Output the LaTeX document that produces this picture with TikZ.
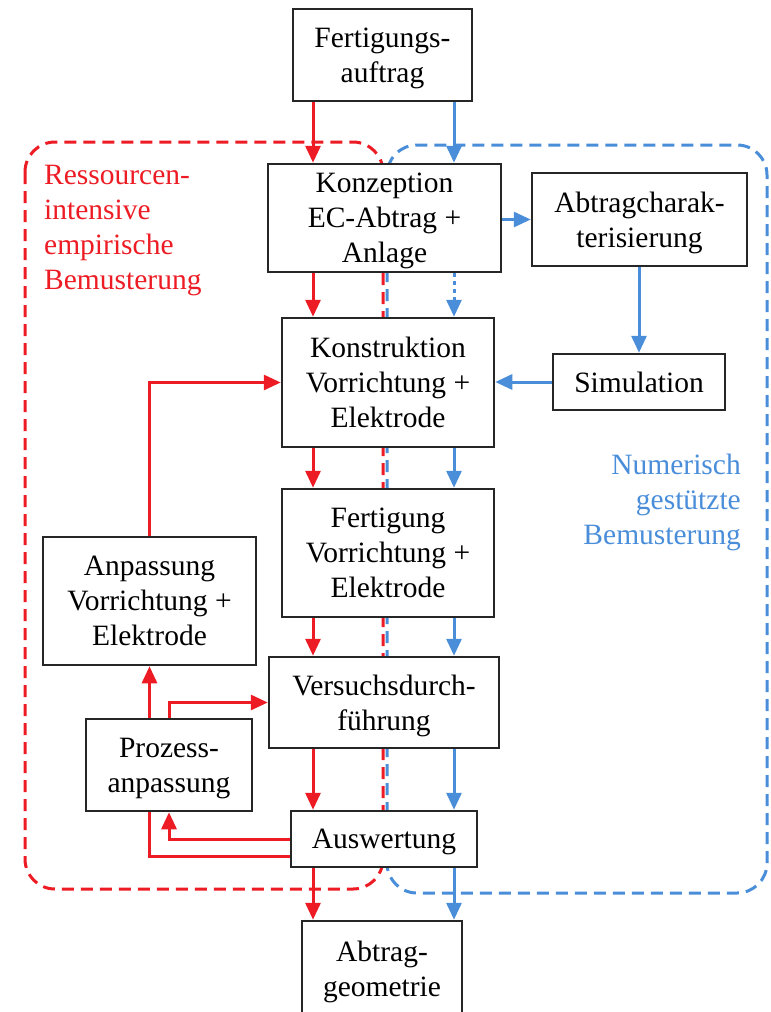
\documentclass[tikz,border=0pt]{standalone}
\usepackage{fontspec}
\setmainfont{Liberation Serif}
\usetikzlibrary{arrows.meta,backgrounds}
\definecolor{rot}{RGB}{237,28,36}
\definecolor{blau}{RGB}{74,142,218}

\begin{document}
\begin{tikzpicture}[x=1pt,y=-1pt]
\tikzstyle{Block} = [draw=black!85, line width=2.5, fill=white, inner sep=0, text depth=0pt, align=center, font=\fontsize{29.5}{35}\selectfont]
\tikzstyle{Rot} = [-{Triangle[length=17,width=15]}, line width=3, color=rot]
\tikzstyle{Blau} = [-{Triangle[length=17,width=15]}, line width=3, color=blau]
\tikzstyle{Bereich} = [line width=3, dash pattern=on 12 off 7, rounded corners=30]

\useasboundingbox (0,0) rectangle (771,1012);

\node [Block, minimum width=179, minimum height=92] (v1) at (382.5,55) {Fertigungs-\\auftrag};
\node [Block, minimum width=233, minimum height=108] (v2) at (384.5,218) {Konzeption\\EC-Abtrag +\\Anlage};
\node [Block, minimum width=215, minimum height=93] (v3) at (639.5,219.5) {Abtragcharak-\\terisierung};
\node [Block, minimum width=212, minimum height=129] (v4) at (388,382.5) {Konstruktion\\Vorrichtung +\\Elektrode};
\node [Block, minimum width=172, minimum height=56] (v5) at (639,382) {Simulation};
\node [Block, minimum width=212, minimum height=128] (v6) at (388,553) {Fertigung\\Vorrichtung +\\Elektrode};
\node [Block, minimum width=213, minimum height=128] (v7) at (149.5,601) {Anpassung\\Vorrichtung +\\Elektrode};
\node [Block, minimum width=230, minimum height=91] (v8) at (384,702.5) {Versuchsdurch-\\führung};
\node [Block, minimum width=166, minimum height=92] (v9) at (169,765) {Prozess-\\anpassung};
\node [Block, minimum width=186, minimum height=56] (v10) at (384,839) {Auswertung};
\node [Block, minimum width=160, minimum height=96] (v11) at (382,969) {Abtrag-\\geometrie};

\node [anchor=north west, inner sep=0, align=left, text=rot, font=\fontsize{29.5}{35}\selectfont] (l1) at (44,165) {Ressourcen-\\intensive\\empirische\\Bemusterung};
\node [anchor=north east, inner sep=0, align=right, text=blau, font=\fontsize{29.5}{35}\selectfont] (l2) at (741,454) {Numerisch\\gestützte\\Bemusterung};

\begin{scope}[on background layer]
\draw [Bereich, rot] (25,142) rectangle (383,889);
\draw [Bereich, blau] (387,145) rectangle (767,893);
\draw [Rot] ([yshift=-17]v10.west) -- ([yshift=-17]v10.west -| v7.south) -- (v7.south);
\end{scope}

\coordinate (r) at (313,0);
\coordinate (b) at (454,0);

\draw [Rot] (v1.south -| r) -- (v2.north -| r);
\draw [Rot] (v2.south -| r) -- (v4.north -| r);
\draw [Rot] (v4.south -| r) -- (v6.north -| r);
\draw [Rot] (v6.south -| r) -- (v8.north -| r);
\draw [Rot] (v8.south -| r) -- (v10.north -| r);
\draw [Rot] (v10.south -| r) -- (v11.north -| r);
\draw [Rot] (v7.north) -- (v7.north |- v4.west) -- (v4.west);
\draw [Rot] (v9.north) -- (v9.north |- v8.west) -- (v8.west);
\draw [Rot] (v10.west) -- (v10.west -| v9.south) -- (v9.south);

\draw [Blau] (v1.south -| b) -- (v2.north -| b);
\draw [Blau, dash pattern=on 4 off 4] (v2.south -| b) -- (v4.north -| b);
\draw [Blau] (v4.south -| b) -- (v6.north -| b);
\draw [Blau] (v6.south -| b) -- (v8.north -| b);
\draw [Blau] (v8.south -| b) -- (v10.north -| b);
\draw [Blau] (v10.south -| b) -- (v11.north -| b);
\draw [Blau] (v2.east |- v3.west) -- (v3.west);
\draw [Blau] (v3.south -| v5.north) -- (v5.north);
\draw [Blau] (v5.west) -- (v4.east |- v5.west);
\end{tikzpicture}
\end{document}
